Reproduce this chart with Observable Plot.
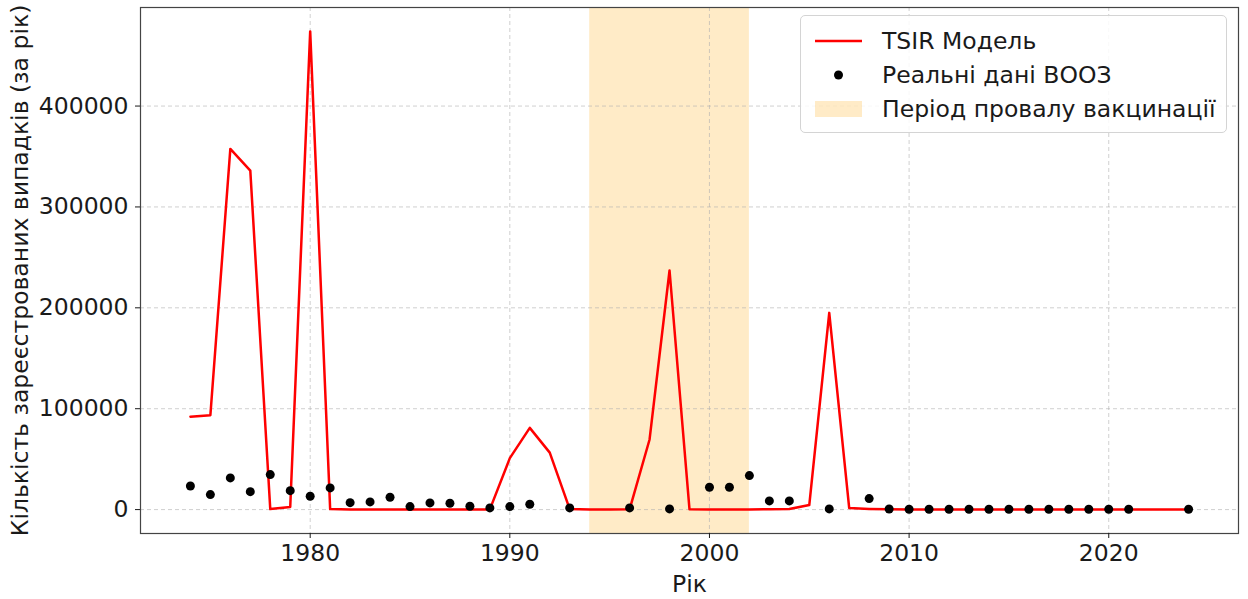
<!DOCTYPE html>
<html>
<head>
<meta charset="utf-8">
<script src="https://cdn.jsdelivr.net/npm/d3@7"></script>
<script src="https://cdn.jsdelivr.net/npm/@observablehq/plot@0.6"></script>
<style>
  html, body { margin: 0; padding: 0; background: #fff; }
  #wrap { position: relative; width: 1248px; height: 599px; font-family: "DejaVu Sans", sans-serif; }
  #wrap svg { position: absolute; left: 0; top: 0; }
  #legend {
    position: absolute; left: 800px; top: 15px; width: 427px; height: 118px;
    box-sizing: border-box; padding: 8px 0 0 14px;
    border: 1px solid #d4d4d4; border-radius: 5px; background: rgba(255,255,255,0.85);
    font-size: 23.5px; color: #1a1a1a;
  }
  #legend .row { display: flex; align-items: center; height: 34px; }
  #legend .row svg { position: static; flex: none; margin-right: 20px; }
</style>
</head>
<body>
<div id="wrap"></div>
<script>
// TSIR model output, one value per year 1974–2024
const modelYears = d3.range(1974, 2025);
const modelCases = [
  92000, 93500, 357500, 336000, 500, 2500, 474000, 500, 200, 200,
  200, 200, 200, 200, 200, 200, 51000, 81000, 56500, 500,
  200, 200, 300, 69500, 237000, 300, 200, 200, 200, 300,
  500, 4500, 195000, 1500, 700, 300, 200, 200, 200, 200,
  200, 200, 200, 200, 200, 200, 200, 200, 200, 200,
  200
];

// WHO reported measles cases
const whoYears = [
  1974, 1975, 1976, 1977, 1978, 1979, 1980, 1981, 1982, 1983,
  1984, 1985, 1986, 1987, 1988, 1989, 1990, 1991, 1993, 1996,
  1998, 2000, 2001, 2002, 2003, 2004, 2006, 2008, 2009, 2010,
  2011, 2012, 2013, 2014, 2015, 2016, 2017, 2018, 2019, 2020,
  2021, 2024
];
const whoCases = [
  23400, 14900, 31400, 17800, 34700, 18800, 13200, 21500, 6900, 7600,
  12200, 3000, 6600, 6300, 3300, 1700, 3000, 5300, 1700, 1700,
  700, 22100, 22100, 33700, 8600, 8600, 700, 10900, 600, 300,
  300, 300, 300, 300, 300, 300, 300, 300, 300, 300,
  300, 300
];

// Vaccination failure period
const failureStart = [1994];
const failureEnd = [2002];

const xTicks = [1980, 1990, 2000, 2010, 2020];
const yTicks = [0, 100000, 200000, 300000, 400000];

const legendLabels = ["TSIR Модель", "Реальні дані ВООЗ", "Період провалу вакцинації"];
const xLabel = "Рік";
const yLabel = "Кількість зареєстрованих випадків (за рік)";

const modelRows = modelYears.map((year, i) => ({year, cases: modelCases[i]}));
const whoRows = whoYears.map((year, i) => ({year, cases: whoCases[i]}));
const spanRows = failureStart.map((start, i) => ({start, end: failureEnd[i]}));

const gridStyle = {stroke: "#b0b0b0", strokeOpacity: 0.6, strokeWidth: 1, strokeDasharray: "4,3"};

const chart = Plot.plot({
  width: 1248,
  height: 599,
  marginLeft: 140,
  marginRight: 10,
  marginTop: 7,
  marginBottom: 66,
  style: {fontFamily: "DejaVu Sans", fontSize: "23.5px", color: "#1a1a1a", background: "white"},
  x: {domain: [1971.5, 2026.5]},
  y: {domain: [-23700, 497700]},
  marks: [
    Plot.rect(spanRows, {x1: "start", x2: "end", fill: "#ffa500", fillOpacity: 0.22}),
    Plot.gridX(xTicks, gridStyle),
    Plot.gridY(yTicks, gridStyle),
    Plot.line(modelRows, {x: "year", y: "cases", stroke: "#ff0000", strokeWidth: 2.5}),
    Plot.dot(whoRows, {x: "year", y: "cases", r: 4.5, fill: "black"}),
    Plot.frame({stroke: "#444", strokeWidth: 1.2}),
    Plot.axisX(xTicks, {
      tickFormat: d => String(d), tickSize: 5, tickPadding: 6,
      label: xLabel, labelAnchor: "center", labelArrow: "none", labelOffset: 58
    }),
    Plot.axisY(yTicks, {
      tickFormat: d => String(d), tickSize: 5, tickPadding: 7,
      label: yLabel, labelAnchor: "center", labelArrow: "none", labelOffset: 129
    })
  ]
});

const wrap = document.getElementById("wrap");
wrap.appendChild(chart);

// Legend box in the upper right corner of the plot area
const legend = document.createElement("div");
legend.id = "legend";
const swatches = [
  `<svg width="47" height="20"><line x1="0" y1="10" x2="47" y2="10" stroke="#ff0000" stroke-width="2.5"/></svg>`,
  `<svg width="47" height="20"><circle cx="23.5" cy="10" r="4.5" fill="black"/></svg>`,
  `<svg width="47" height="20"><rect x="0" y="2" width="47" height="16" fill="#ffa500" fill-opacity="0.22"/></svg>`
];
legend.innerHTML = legendLabels.map((label, i) =>
  `<div class="row">${swatches[i]}<span>${label}</span></div>`).join("");
wrap.appendChild(legend);
</script>
</body>
</html>
